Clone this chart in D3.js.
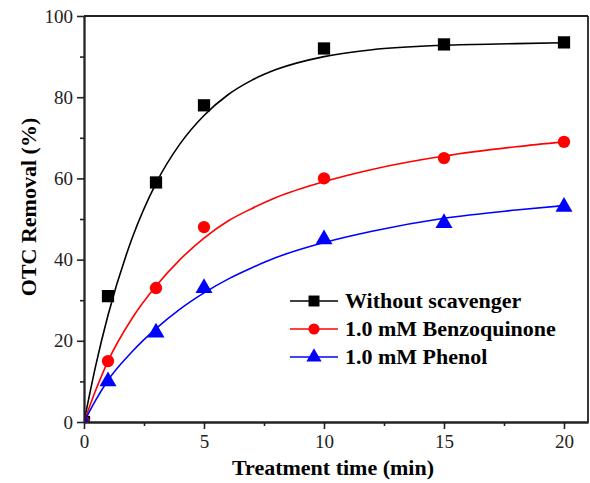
<!DOCTYPE html>
<html><head><meta charset="utf-8">
<script src="https://cdn.jsdelivr.net/npm/d3@7"></script>
<style>body{margin:0;background:#fff}svg{display:block}</style>
</head><body>
<script>
// measured data
const times = [0, 1, 3, 5, 10, 15, 20];
const withoutScavenger = [0, 31, 59, 78, 92, 93, 93.5];
const benzoquinone = [0, 15, 33, 48, 60, 65, 69];
const phenol = [0, 10, 22, 33, 45, 49, 53];
// fitted curves
const fitTimes = [0, 0.5, 1, 2, 3, 4, 5, 6, 7, 8, 10, 12, 15, 18, 20];
const fitWithout = [0, 14.2, 26.3, 45.2, 58.8, 68.5, 75.5, 80.6, 84.2, 86.8, 90.0, 91.7, 92.8, 93.2, 93.4];
const fitBenzo = [0, 8, 15, 25.5, 33.5, 40, 45.3, 49.5, 52.6, 55.3, 59.2, 62.2, 65.5, 67.8, 69];
const fitPhenol = [0, 5.5, 10.3, 17.3, 23, 27.8, 31.8, 35.2, 38, 40.5, 44.2, 47, 50.2, 52.2, 53.3];
const seriesNames = ["Without scavenger", "1.0 mM Benzoquinone", "1.0 mM Phenol"];
const seriesColors = ["#000000", "#ff0000", "#0000ff"];
const seriesSymbols = [d3.symbolSquare, d3.symbolCircle, d3.symbolTriangle];
const xTicks = [0, 5, 10, 15, 20];
const xMinor = [2.5, 7.5, 12.5, 17.5];
const yTicks = [0, 20, 40, 60, 80, 100];
const yMinor = [10, 30, 50, 70, 90];

const W = 590, H = 483;
const font = "'Liberation Serif','Times New Roman',serif";
const svg = d3.select("body").append("svg").attr("width", W).attr("height", H);
const x = d3.scaleLinear().domain([0, 21]).range([84, 588]);
const y = d3.scaleLinear().domain([0, 100]).range([422, 16]);

svg.append("defs").append("clipPath").attr("id", "clip")
  .append("rect").attr("x", x(0)).attr("y", y(100)).attr("width", x(21) - x(0)).attr("height", y(0) - y(100));

const seriesData = [withoutScavenger, benzoquinone, phenol];
const fitData = [fitWithout, fitBenzo, fitPhenol];
const symSizes = [150, 120, 125];

const line = d3.line().x(d => x(d[0])).y(d => y(d[1])).curve(d3.curveMonotoneX);
const plot = svg.append("g").attr("clip-path", "url(#clip)");
fitData.forEach((f, i) => {
  plot.append("path").datum(fitTimes.map((t, j) => [t, f[j]]))
    .attr("d", line).attr("fill", "none").attr("stroke", seriesColors[i]).attr("stroke-width", 1.6);
});
seriesData.forEach((s, i) => {
  plot.selectAll(null).data(times.map((t, j) => [t, s[j]])).enter().append("path")
    .attr("transform", d => `translate(${x(d[0])},${y(d[1])})`)
    .attr("d", d3.symbol().type(seriesSymbols[i]).size(symSizes[i]))
    .attr("fill", seriesColors[i]);
});

// axes
svg.append("g").attr("transform", `translate(0,${y(0)})`)
  .call(d3.axisBottom(x).tickValues(xTicks).tickFormat(d3.format("d")).tickSize(7).tickSizeOuter(0).tickPadding(6));
svg.append("g").attr("transform", `translate(0,${y(0)})`)
  .call(d3.axisBottom(x).tickValues(xMinor).tickFormat("").tickSize(4).tickSizeOuter(0));
svg.append("g").attr("transform", `translate(${x(0)},0)`)
  .call(d3.axisLeft(y).tickValues(yTicks).tickFormat(d3.format("d")).tickSize(7).tickSizeOuter(0).tickPadding(4));
svg.append("g").attr("transform", `translate(${x(0)},0)`)
  .call(d3.axisLeft(y).tickValues(yMinor).tickFormat("").tickSize(4).tickSizeOuter(0));
svg.selectAll(".domain").attr("stroke", "#222").attr("stroke-width", 1.8);
svg.selectAll(".tick line").attr("stroke", "#222").attr("stroke-width", 1.6);
svg.selectAll(".tick text").attr("font-family", font).attr("font-size", 19).attr("fill", "#222");
// top and right frame
svg.append("line").attr("x1", x(0)).attr("x2", x(21)).attr("y1", y(100)).attr("y2", y(100)).attr("stroke", "#222").attr("stroke-width", 1.8);
svg.append("line").attr("x1", x(21)).attr("x2", x(21)).attr("y1", y(100)).attr("y2", y(0)).attr("stroke", "#222").attr("stroke-width", 1.8);

// titles
svg.append("text").attr("x", 333).attr("y", 475).attr("text-anchor", "middle")
  .attr("font-family", font).attr("font-weight", "bold").attr("font-size", 22).text("Treatment time (min)");
svg.append("text").attr("transform", `translate(36,${(y(0) + y(100)) / 2 - 12}) rotate(-90)`).attr("text-anchor", "middle")
  .attr("font-family", font).attr("font-weight", "bold").attr("font-size", 22).text("OTC Removal (%)");

// legend
const lg = svg.append("g");
seriesNames.forEach((n, i) => {
  const cy = 301 + i * 28;
  lg.append("line").attr("x1", 290).attr("x2", 338).attr("y1", cy).attr("y2", cy)
    .attr("stroke", seriesColors[i]).attr("stroke-width", 1.6);
  lg.append("path").attr("transform", `translate(314,${cy})`)
    .attr("d", d3.symbol().type(seriesSymbols[i]).size(symSizes[i] * 0.8)).attr("fill", seriesColors[i]);
  lg.append("text").attr("x", 345).attr("y", cy).attr("dy", "0.33em")
    .attr("font-family", font).attr("font-weight", "bold").attr("font-size", 22).text(n);
});
</script>
</body></html>
